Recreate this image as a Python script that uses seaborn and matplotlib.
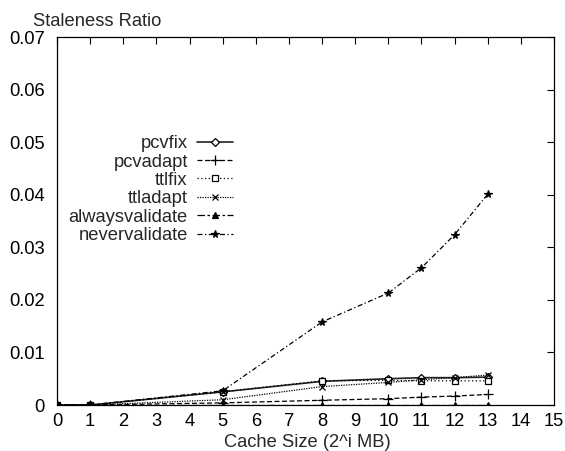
import matplotlib
matplotlib.use("Agg")
import matplotlib.pyplot as plt
import seaborn as sns
import numpy as np

cache_size = [0, 1, 5, 8, 10, 11, 12, 13]
pcvfix = [0, 0, 0.0025, 0.0045, 0.0050, 0.0052, 0.0052, 0.0053]
pcvadapt = [0, 0, 0.0004, 0.0009, 0.0012, 0.0015, 0.0017, 0.0020]
ttlfix = [0, 0, 0.0025, 0.0046, 0.0047, 0.0046, 0.0046, 0.0046]
ttladapt = [0, 0, 0.0010, 0.0035, 0.0043, 0.0048, 0.0052, 0.0057]
alwaysvalidate = [0, 0, 0, 0, 0, 0, 0, 0]
nevervalidate = [0, 0, 0.0027, 0.0158, 0.0213, 0.0261, 0.0324, 0.0401]

series_names = ["pcvfix", "pcvadapt", "ttlfix", "ttladapt", "alwaysvalidate", "nevervalidate"]
series_values = [pcvfix, pcvadapt, ttlfix, ttladapt, alwaysvalidate, nevervalidate]
x_ticks = list(range(0, 16))
y_ticks = [0, 0.01, 0.02, 0.03, 0.04, 0.05, 0.06, 0.07]
y_tick_labels = ["0", "0.01", "0.02", "0.03", "0.04", "0.05", "0.06", "0.07"]

FS = 13.2
sns.set_theme(style="white")
plt.rcParams["font.family"] = ["Liberation Sans", "DejaVu Sans"]
plt.rcParams["font.size"] = FS

styles = {
    "pcvfix": dict(marker="D", linestyle="-", markerfacecolor="white", markersize=4, color="#222222", linewidth=1.2),
    "pcvadapt": dict(marker="+", linestyle=(0, (4, 2)), markersize=7, color="black", linewidth=0.9),
    "ttlfix": dict(marker="s", linestyle=(0, (1, 2)), markerfacecolor="white", markersize=5, color="black", linewidth=0.9),
    "ttladapt": dict(marker="x", linestyle=(0, (1, 1)), markersize=5, color="black", linewidth=0.9),
    "alwaysvalidate": dict(marker="^", linestyle=(0, (6, 2, 2, 2)), markersize=5, color="black", linewidth=0.9),
    "nevervalidate": dict(marker="*", linestyle=(0, (4, 2, 1, 2)), markersize=5.5, color="black", linewidth=0.9),
}

fig = plt.figure(figsize=(5.65, 4.51), dpi=100)
ax = fig.add_axes([57 / 565, 46 / 451, 497 / 565, 368 / 451])

for name, vals in zip(series_names, series_values):
    st = styles[name]
    sns.lineplot(x=cache_size, y=vals, ax=ax, label=name, markeredgecolor="black",
                 markeredgewidth=0.9, **st)

ax.set_xlim(0, 15)
ax.set_ylim(0, 0.07)
ax.set_xticks(x_ticks)
ax.set_xticklabels([str(t) for t in x_ticks])
ax.set_yticks(y_ticks)
ax.set_yticklabels(y_tick_labels)
ax.tick_params(direction="in", length=5, width=0.8, top=True, right=True,
               labelsize=FS, colors="black")
ax.tick_params(axis="x", pad=5.5)
ax.tick_params(axis="y", pad=9)
for sp in ax.spines.values():
    sp.set_color("black")
    sp.set_linewidth(0.9)
ax.set_xlabel("")
ax.set_ylabel("")
fig.text(307 / 565, 1 - 447 / 451, "Cache Size (2^i MB)", fontsize=FS, va="baseline", ha="center")
fig.text(33 / 565, 1 - 26 / 451, "Staleness Ratio", fontsize=FS, va="baseline", ha="left")

leg = ax.legend(loc="upper right", bbox_to_anchor=(242 / 565, 1 - 126 / 451),
                bbox_transform=fig.transFigure, frameon=False, markerfirst=False,
                handlelength=1.97, labelspacing=0.075, handletextpad=0.49,
                borderpad=0.0, fontsize=FS)

fig.savefig("out.png", dpi=100)
